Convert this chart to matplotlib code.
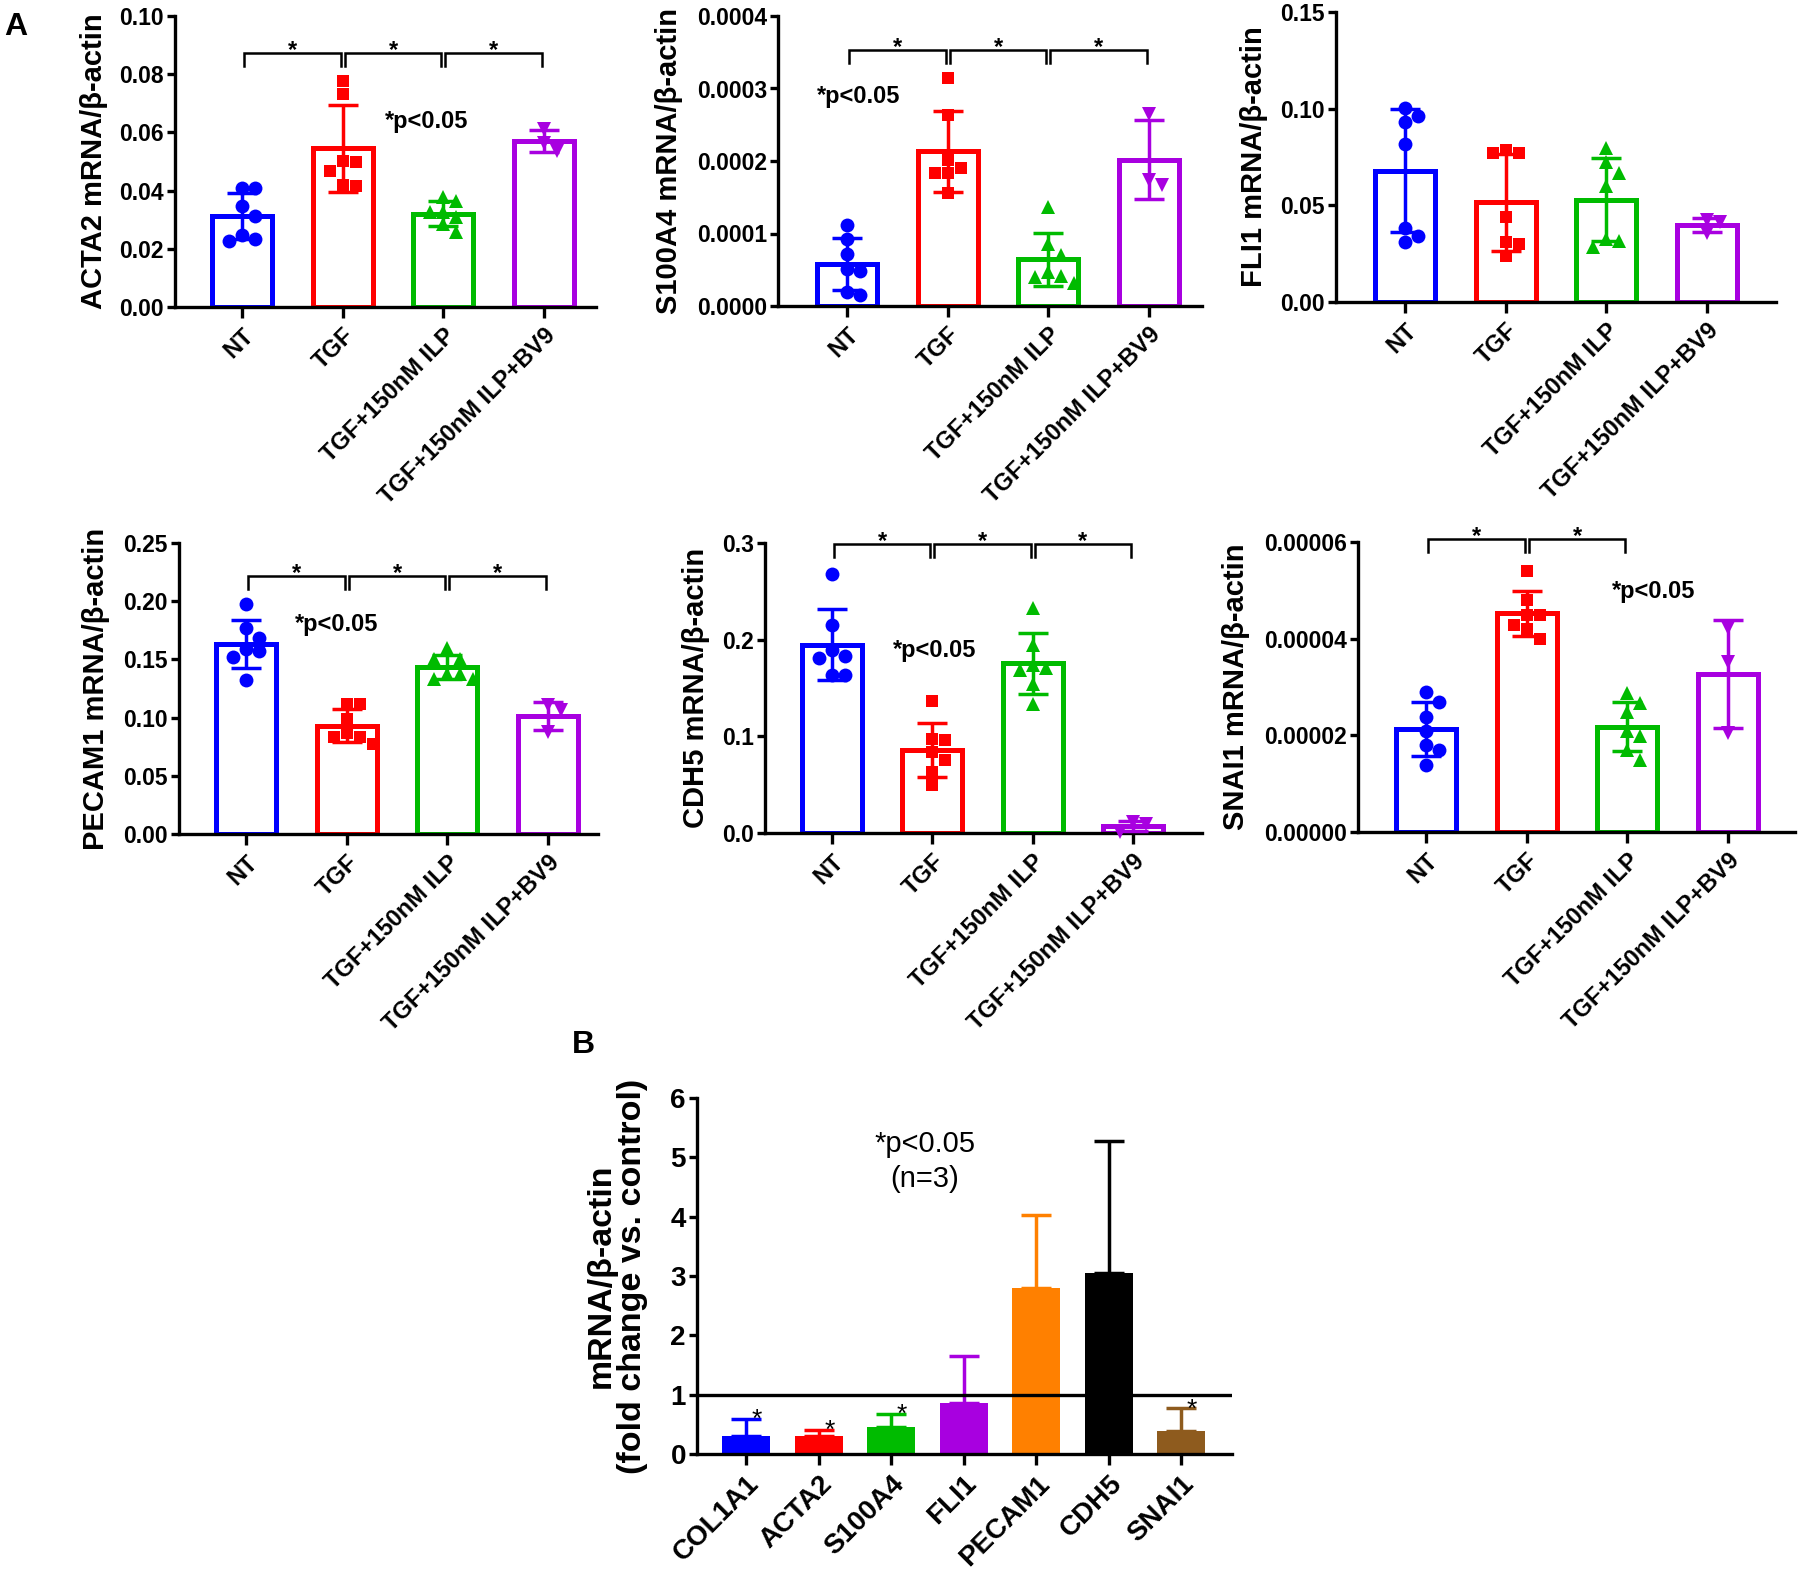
import numpy as np
import matplotlib
matplotlib.use("Agg")
import matplotlib.pyplot as plt
from matplotlib.ticker import FormatStrFormatter, MultipleLocator

plt.rcParams['font.family'] = ['Liberation Sans', 'DejaVu Sans']
plt.rcParams['font.weight'] = 'bold'

# ---------------- data ----------------
GROUPS = ['NT', 'TGF', 'TGF+150nM ILP', 'TGF+150nM ILP+BV9']
GROUP_COLORS = ['#0000FF', '#FF0000', '#00BB00', '#A800E0']
GROUP_MARKERS = ['o', 's', '^', 'v']

ACTA2_NT = [0.0409, 0.0410, 0.0346, 0.0312, 0.0249, 0.0234, 0.0227]
ACTA2_TGF = [0.0778, 0.0732, 0.0502, 0.0499, 0.0468, 0.0419, 0.0415]
ACTA2_ILP = [0.0378, 0.0364, 0.0327, 0.0327, 0.0310, 0.0284, 0.0258]
ACTA2_BV9 = [0.0613, 0.0564, 0.0537]

S100A4_NT = [1.113e-4, 9.2e-5, 7.17e-5, 5.06e-5, 4.87e-5, 1.89e-5, 1.56e-5]
S100A4_TGF = [3.15e-4, 2.63e-4, 2.02e-4, 1.90e-4, 1.83e-4, 1.83e-4, 1.56e-4]
S100A4_ILP = [1.36e-4, 8.55e-5, 6.99e-5, 4.74e-5, 4.14e-5, 3.95e-5, 3.13e-5]
S100A4_BV9 = [2.65e-4, 1.74e-4, 1.67e-4]

FLI1_NT = [0.1005, 0.0931, 0.0962, 0.0817, 0.0384, 0.0342, 0.0310]
FLI1_TGF = [0.0769, 0.0772, 0.0786, 0.0442, 0.0310, 0.0299, 0.0236]
FLI1_ILP = [0.0795, 0.0722, 0.0666, 0.0602, 0.0327, 0.0317, 0.0282]
FLI1_BV9 = [0.0425, 0.0416, 0.0356]

PECAM1_NT = [0.1978, 0.1769, 0.1683, 0.1591, 0.1568, 0.1517, 0.1325]
PECAM1_TGF = [0.1118, 0.1118, 0.0989, 0.0866, 0.0831, 0.0831, 0.0771]
PECAM1_ILP = [0.1597, 0.1505, 0.1505, 0.1373, 0.1373, 0.1333, 0.1333]
PECAM1_BV9 = [0.1104, 0.1061, 0.0874]

CDH5_NT = [0.2683, 0.2155, 0.1897, 0.1834, 0.1810, 0.1631, 0.1631]
CDH5_TGF = [0.1369, 0.0959, 0.0972, 0.0838, 0.0759, 0.0628, 0.0500]
CDH5_ILP = [0.2328, 0.1941, 0.1707, 0.1741, 0.1690, 0.1541, 0.1338]
CDH5_BV9 = [0.0115, 0.0095, 0.0010]

SNAI1_NT = [2.90e-5, 2.69e-5, 2.38e-5, 2.10e-5, 1.70e-5, 1.79e-5, 1.38e-5]
SNAI1_TGF = [5.39e-5, 4.79e-5, 4.50e-5, 4.50e-5, 4.29e-5, 4.19e-5, 3.99e-5]
SNAI1_ILP = [2.88e-5, 2.67e-5, 2.48e-5, 2.08e-5, 1.99e-5, 1.69e-5, 1.48e-5]
SNAI1_BV9 = [4.23e-5, 3.52e-5, 2.05e-5]

B_GENES = ['COL1A1', 'ACTA2', 'S100A4', 'FLI1', 'PECAM1', 'CDH5', 'SNAI1']
B_MEAN = [0.295, 0.307, 0.455, 0.86, 2.795, 3.05, 0.393]
B_SD = [0.301, 0.103, 0.221, 0.80, 1.225, 2.22, 0.375]
B_SIG = [True, True, True, False, False, False, True]
B_COLORS = ['#0000FF', '#FF0000', '#00BB00', '#A800E0', '#FF8000', '#000000', '#8E5B1E']

# ---------------- figure ----------------
W, H = 1800, 1581
fig = plt.figure(figsize=(W / 100, H / 100), dpi=100)


def add_ax(left, top, right, bottom):
    return fig.add_axes([left / W, 1 - bottom / H, (right - left) / W, (bottom - top) / H])


def style_axes(ax, fs_y, fs_x):
    for s in ['top', 'right']:
        ax.spines[s].set_visible(False)
    for s in ['left', 'bottom']:
        ax.spines[s].set_linewidth(2.4)
    ax.tick_params(axis='y', direction='out', length=6, width=2.4, labelsize=fs_y, pad=2)
    ax.tick_params(axis='x', direction='out', length=8, width=2.4, labelsize=fs_x, pad=4)


def swarm_offsets(vals, px_per_unit, px_per_cat, step=13.0):
    vals = np.asarray(vals)
    order = np.argsort(-vals)
    placed = []
    offs = np.zeros(len(vals))
    cands = [0.0]
    for m in range(1, 6):
        cands += [m * step, -m * step]
    for idx in order:
        y = vals[idx] * px_per_unit
        chosen = cands[-1]
        for c in cands:
            if all((c - px) ** 2 + (y - py) ** 2 >= (step * 0.95) ** 2 for px, py in placed):
                chosen = c
                break
        placed.append((chosen, y))
        offs[idx] = chosen / px_per_cat
    return offs


panels = [
    dict(label='ACTA2 mRNA/\u03b2-actin', data=[ACTA2_NT, ACTA2_TGF, ACTA2_ILP, ACTA2_BV9],
         ymax=0.10, step=0.02, fmt='%.2f', box=(175, 16, 596, 307), xlim=(-0.67, 3.52),
         brackets=[(0, 1), (1, 2), (2, 3)], br_y=0.0872, ptext=(1.42, 0.0636), ylab_x=94),
    dict(label='S100A4 mRNA/\u03b2-actin', data=[S100A4_NT, S100A4_TGF, S100A4_ILP, S100A4_BV9],
         ymax=0.0004, step=0.0001, fmt='%.4f', box=(778, 16, 1202, 306), xlim=(-0.69, 3.53),
         brackets=[(0, 1), (1, 2), (2, 3)], br_y=3.53e-4, ptext=(-0.30, 2.89e-4), ylab_x=669),
    dict(label='FLI1 mRNA/\u03b2-actin', data=[FLI1_NT, FLI1_TGF, FLI1_ILP, FLI1_BV9],
         ymax=0.15, step=0.05, fmt='%.2f', box=(1336, 12, 1776, 302), xlim=(-0.69, 3.69),
         brackets=[], br_y=None, ptext=None, ylab_x=1254),
    dict(label='PECAM1 mRNA/\u03b2-actin', data=[PECAM1_NT, PECAM1_TGF, PECAM1_ILP, PECAM1_BV9],
         ymax=0.25, step=0.05, fmt='%.2f', box=(179, 543, 598, 834), xlim=(-0.67, 3.50),
         brackets=[(0, 1), (1, 2), (2, 3)], br_y=0.222, ptext=(0.48, 0.18), ylab_x=96),
    dict(label='CDH5 mRNA/\u03b2-actin', data=[CDH5_NT, CDH5_TGF, CDH5_ILP, CDH5_BV9],
         ymax=0.3, step=0.1, fmt='%.1f', box=(765, 543, 1202, 833), xlim=(-0.67, 3.69),
         brackets=[(0, 1), (1, 2), (2, 3)], br_y=0.2993, ptext=(0.61, 0.189), ylab_x=696),
    dict(label='SNAI1 mRNA/\u03b2-actin', data=[SNAI1_NT, SNAI1_TGF, SNAI1_ILP, SNAI1_BV9],
         ymax=0.00006, step=0.00002, fmt='%.5f', box=(1358, 542, 1795, 832), xlim=(-0.68, 3.67),
         brackets=[(0, 1), (1, 2)], br_y=6.07e-5, ptext=(1.85, 4.97e-5), ylab_x=1236),
]

for p in panels:
    l, t, r, b = p['box']
    ax = add_ax(l, t, r, b)
    style_axes(ax, 16.5, 17)
    ax.set_xlim(*p['xlim'])
    ax.set_ylim(0, p['ymax'])
    ax.yaxis.set_major_locator(MultipleLocator(p['step']))
    ax.yaxis.set_major_formatter(FormatStrFormatter(p['fmt']))
    px_per_unit = (b - t) / p['ymax']
    px_per_cat = (r - l) / (p['xlim'][1] - p['xlim'][0])
    x = np.arange(len(GROUPS))
    for i, vals in enumerate(p['data']):
        vals = np.asarray(vals)
        m = vals.mean()
        sd = vals.std(ddof=1)
        c = GROUP_COLORS[i]
        ax.bar(i, m, width=0.6, facecolor='white', edgecolor=c, linewidth=3.6, zorder=2)
        ax.errorbar(i, m, yerr=sd, color=c, elinewidth=2.5, capsize=11, capthick=2.5, zorder=3)
        offs = swarm_offsets(vals, px_per_unit, px_per_cat)
        ax.plot(i + offs, vals, linestyle='none', marker=GROUP_MARKERS[i], color=c,
                markersize=10 if GROUP_MARKERS[i] != 's' else 8.8, markeredgewidth=0,
                zorder=4, clip_on=False)
    ax.set_xticks(x)
    ax.set_xticklabels(GROUPS, rotation=45, ha='right', rotation_mode='anchor')
    # significance brackets
    drop = 13 / px_per_unit
    for (a, bb) in p['brackets']:
        x0, x1 = a + 0.02, bb - 0.02
        y = p['br_y']
        ax.plot([x0, x0, x1, x1], [y - drop, y, y, y - drop], color='black', lw=1.8,
                clip_on=False, zorder=5, solid_joinstyle='miter')
        ax.annotate('*', xy=((a + bb) / 2, y), xytext=(0, -3), textcoords='offset points',
                    ha='center', va='baseline', fontsize=17, annotation_clip=False)
    if p['ptext'] is not None:
        ax.text(p['ptext'][0], p['ptext'][1], '*p<0.05', ha='left', va='center', fontsize=17)
    fig.text(p['ylab_x'] / W, 1 - ((t + b) / 2) / H, p['label'], rotation=90,
             ha='center', va='center', fontsize=21, fontweight='bold')

# ---------------- panel B ----------------
axb = add_ax(697, 1098, 1232, 1454)
style_axes(axb, 20, 20)
axb.set_xlim(-0.68, 6.70)
axb.set_ylim(0, 6)
axb.yaxis.set_major_locator(MultipleLocator(1))
axb.yaxis.set_major_formatter(FormatStrFormatter('%d'))
xb = np.arange(len(B_GENES))
axb.bar(xb, B_MEAN, width=0.66, color=B_COLORS, edgecolor='none', zorder=2)
for i in range(len(B_GENES)):
    axb.errorbar(xb[i], B_MEAN[i], yerr=[[0], [B_SD[i]]], color=B_COLORS[i], elinewidth=2.5,
                 capsize=11, capthick=2.5, zorder=3)
    if B_SIG[i]:
        axb.text(xb[i] + 0.15, B_MEAN[i] + B_SD[i] - 0.14, '*', ha='center', va='baseline',
                 fontsize=19, fontweight='normal')
axb.axhline(1, color='black', lw=2.4, zorder=4)
axb.set_xticks(xb)
axb.set_xticklabels(B_GENES, rotation=45, ha='right', rotation_mode='anchor')
axb.text(2.46, 5.22, '*p<0.05', ha='center', va='center', fontsize=21, fontweight='normal')
axb.text(2.46, 4.64, '(n=3)', ha='center', va='center', fontsize=21, fontweight='normal')
fig.text(617 / W, 1 - 1276 / H, 'mRNA/\u03b2-actin\n(fold change vs. control)', rotation=90,
         ha='center', va='center', fontsize=24.5, fontweight='bold', linespacing=1.0,
         multialignment='center')

fig.text(4 / W, 1 - 12 / H, 'A', ha='left', va='top', fontsize=23, fontweight='bold')
fig.text(572 / W, 1 - 1030 / H, 'B', ha='left', va='top', fontsize=23, fontweight='bold')

fig.savefig('out.png', dpi=100, facecolor='white')
